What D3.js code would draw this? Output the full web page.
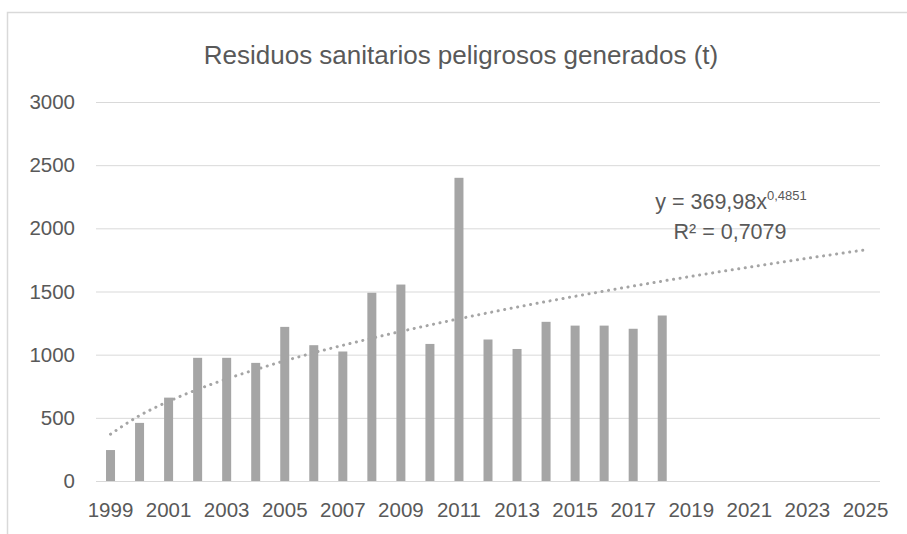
<!DOCTYPE html>
<html>
<head>
<meta charset="utf-8">
<script src="https://cdn.jsdelivr.net/npm/d3@7"></script>
<style>
  body { margin: 0; background: #fff; }
  svg { display: block; font-family: "Liberation Sans", Arial, sans-serif; }
  .axis text { fill: #595959; font-size: 20.5px; }
  .axis path { display: none; }
  .y.axis line { stroke: #d9d9d9; }
  .x.axis line { display: none; }
</style>
</head>
<body>
<div id="chart"></div>
<script>
var years = d3.range(1999, 2026);
var barYears = d3.range(1999, 2019);
var barValues = [245, 460, 660, 975, 975, 935, 1220, 1075, 1025, 1490,
                 1555, 1085, 2400, 1120, 1045, 1260, 1230, 1230, 1205, 1310];
// power trend line for 1999..2025
var trendValues = [370, 518, 630, 725, 808, 882, 951, 1015, 1074, 1130,
                   1184, 1235, 1284, 1331, 1376, 1420, 1462, 1503, 1543, 1582,
                   1620, 1657, 1693, 1729, 1763, 1797, 1830];
var yTicks = [0, 500, 1000, 1500, 2000, 2500, 3000];
var xTickLabels = years.filter(function(d, i) { return i % 2 === 0; });
var title = "Residuos sanitarios peligrosos generados (t)";
var eqText = "y = 369,98x";
var eqExp = "0,4851";
var r2Text = "R² = 0,7079";

var W = 907, H = 534;
var padl = 96, padr = 27, padt = 102, padb = 53;

var svg = d3.select('#chart').append('svg').attr('width', W).attr('height', H);

// chart frame (only top and left edges show)
svg.append('path')
  .attr('d', 'M7.5,534 V12.5 H907')
  .attr('fill', 'none').attr('stroke', '#d9d9d9').attr('stroke-width', 1.5);

var x = d3.scaleBand().domain(years).range([padl, W - padr]).paddingInner(0.69).paddingOuter(0.345);
var y = d3.scaleLinear().domain([0, 3000]).range([H - padb, padt]);

var yAxis = d3.axisLeft(y).tickValues(yTicks).tickSize(-(W - padr - padl)).tickPadding(21).tickFormat(d3.format('d'));
svg.append('g').attr('class', 'y axis').attr('transform', 'translate(' + padl + ',0)').call(yAxis);

var xAxis = d3.axisBottom(x).tickValues(xTickLabels).tickSize(0).tickPadding(21);
svg.append('g').attr('class', 'x axis').attr('transform', 'translate(0,' + (H - padb) + ')').call(xAxis);

svg.append('g').selectAll('rect').data(barYears).enter().append('rect')
  .attr('x', function(d) { return x(d); })
  .attr('width', x.bandwidth())
  .attr('y', function(d, i) { return y(barValues[i]); })
  .attr('height', function(d, i) { return y(0) - y(barValues[i]); })
  .attr('fill', '#a5a5a5');

var line = d3.line()
  .x(function(d, i) { return x(years[i]) + x.bandwidth() / 2; })
  .y(function(d) { return y(d); })
  .curve(d3.curveMonotoneX);

svg.append('path').datum(trendValues)
  .attr('d', line)
  .attr('fill', 'none')
  .attr('stroke', '#a5a5a5')
  .attr('stroke-width', 3)
  .attr('stroke-linecap', 'round')
  .attr('stroke-dasharray', '0.1,6.5');

svg.append('text')
  .attr('x', 461).attr('y', 64)
  .attr('text-anchor', 'middle')
  .attr('fill', '#595959').attr('font-size', 26)
  .text(title);

var eq = svg.append('text')
  .attr('x', 731).attr('y', 209)
  .attr('text-anchor', 'middle')
  .attr('fill', '#595959').attr('font-size', 21.5);
eq.append('tspan').text(eqText);
eq.append('tspan').attr('dy', -9).attr('font-size', 13).text(eqExp);

svg.append('text')
  .attr('x', 730).attr('y', 239)
  .attr('text-anchor', 'middle')
  .attr('fill', '#595959').attr('font-size', 21.5)
  .text(r2Text);
</script>
</body>
</html>
